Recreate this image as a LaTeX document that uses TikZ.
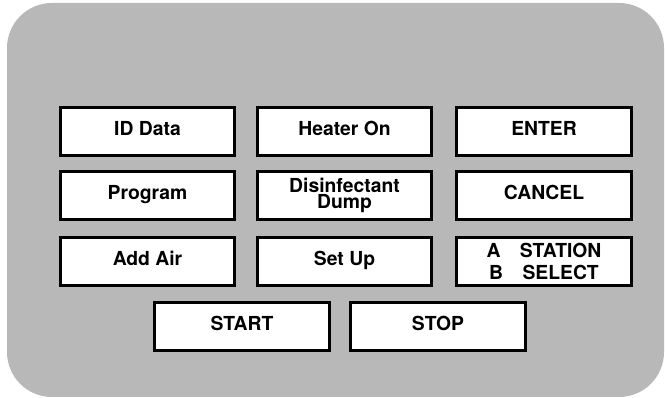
\documentclass[tikz,border=0pt]{standalone}
\usepackage{fontspec}
\setmainfont{TeX Gyre Heros}
\tikzset{
	keybox/.style={draw, rectangle, line width=1.7pt, fill=white,
		minimum width=3.5cm, minimum height=0.96cm, inner sep=0pt,
		font=\bfseries\fontsize{11}{12}\selectfont,
		text height=8pt, text depth=4pt},
	twoline/.style={align=center, text height={}, text depth={}},
}
\begin{document}
\begin{tikzpicture}[x=0.02cm,y=0.02cm]
	\useasboundingbox (0,0) rectangle (665,398);
	% panel
	\fill[black!28, rounded corners=0.9cm] (7,1) rectangle (664,395);
	
	\node[keybox] (ID) at (147.5,266.5) {ID Data};
	\node[keybox] (H) at (344.5,266.5) {Heater On};
	\node[keybox] (E) at (544,266.5) {ENTER};
	\node[keybox] (P) at (147.5,202.5) {Program};
	\node[keybox, twoline, font=\bfseries\fontsize{11}{9.5}\selectfont] (D) at (344.5,202.5)
	{Disinfectant\\Dump};
	\node[keybox] (C) at (544,202.5) {CANCEL};
	\node[keybox] (AA) at (147.5,136.5) {Add Air};
	\node[keybox] (SU) at (344.5,136.5) {Set Up};
	\node[keybox, twoline] (SS) at (544,136.5)
	{A\quad STATION\\B\quad SELECT};
	\node[keybox] (ST) at (242,71.5) {START};
	\node[keybox] (SP) at (438,71.5) {STOP};
\end{tikzpicture}
\end{document}
